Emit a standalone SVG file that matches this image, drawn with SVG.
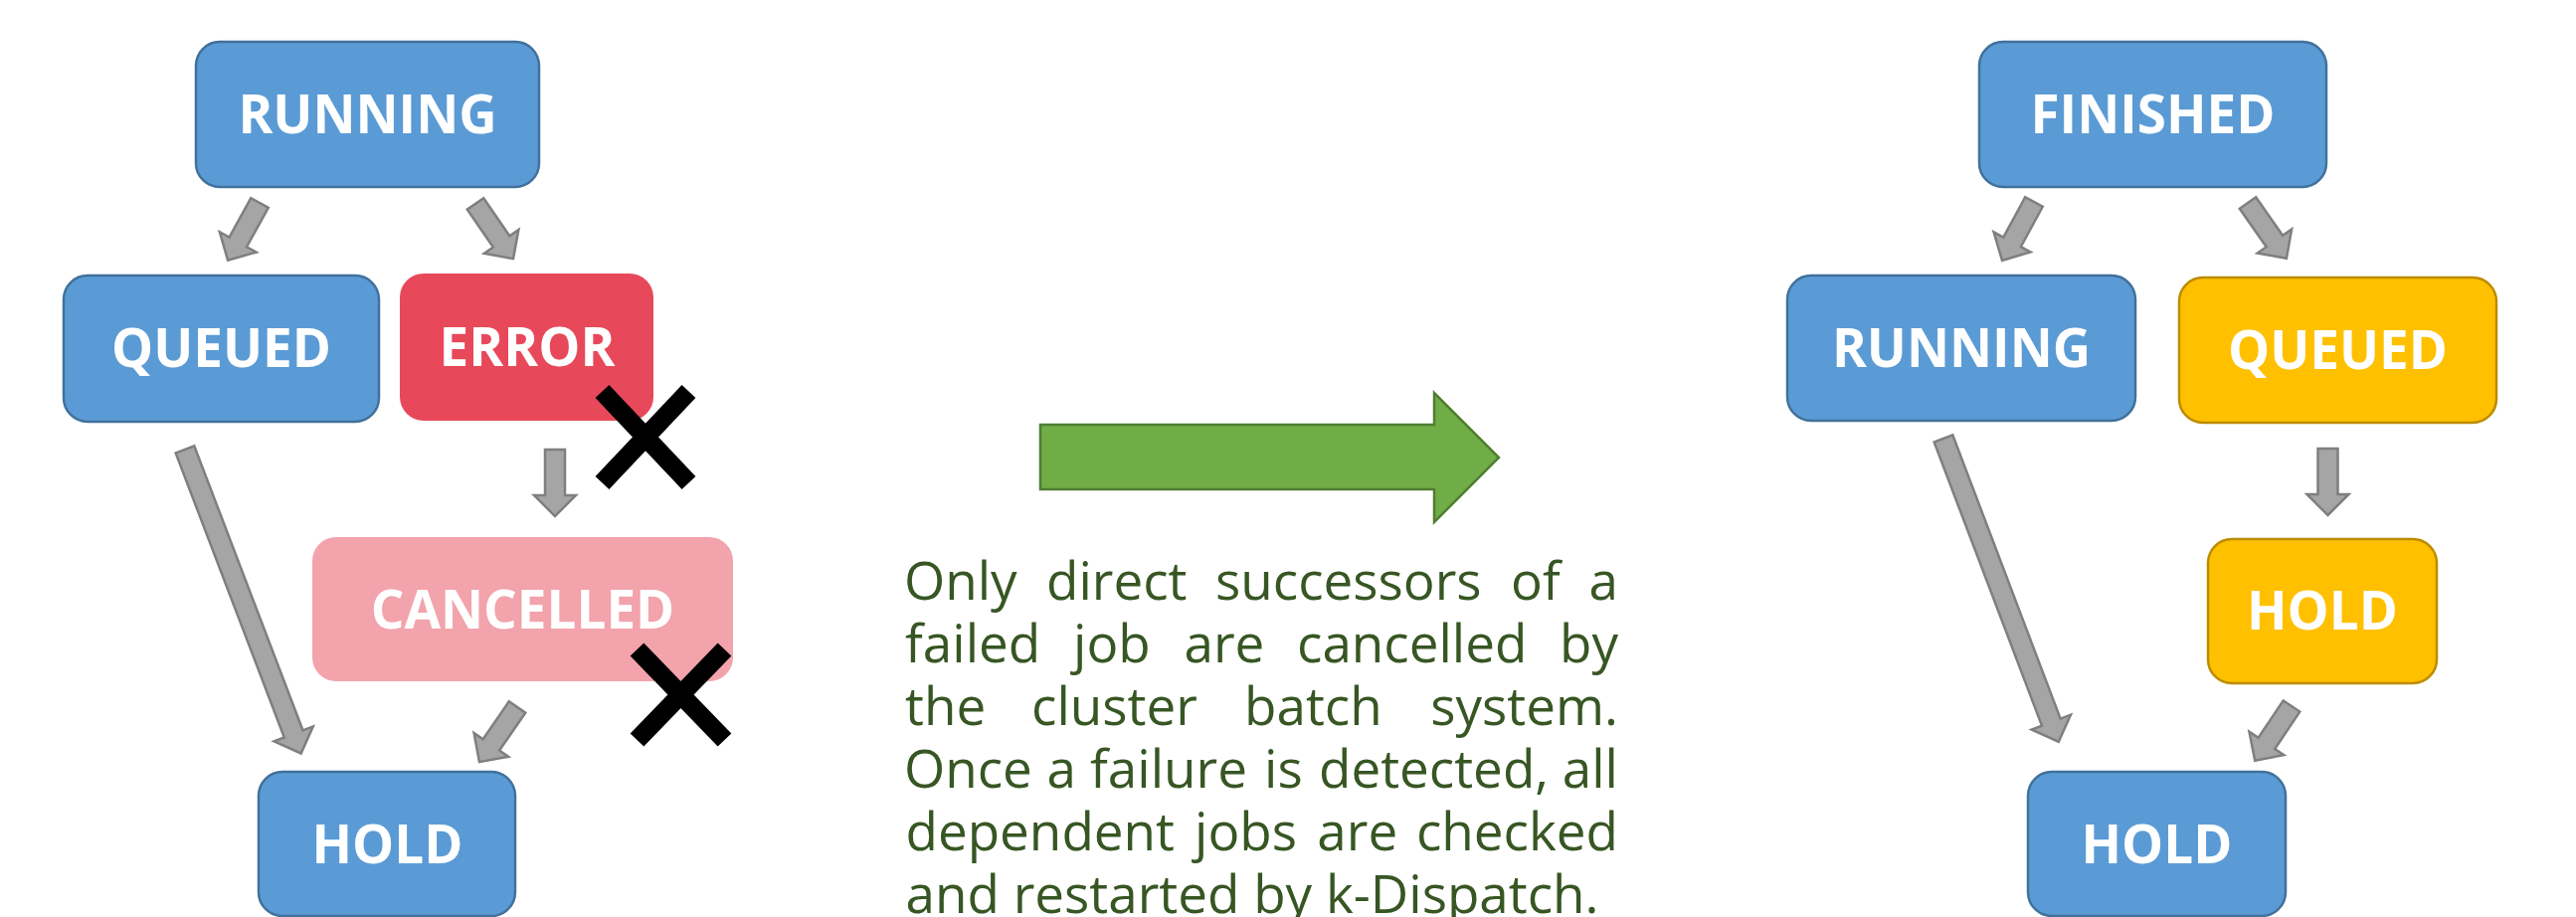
<svg xmlns="http://www.w3.org/2000/svg" width="2590" height="922" viewBox="0 0 2590 922">
<style>
.blue{fill:#5B9BD5;stroke:#41719C;stroke-width:2.5}
.yellow{fill:#FFC000;stroke:#BC8C00;stroke-width:2.5}
.red{fill:#E8495A}
.pink{fill:#F2A3AB}
.lbl{font-family:"Open Sans","Noto Sans",sans-serif;font-weight:bold;font-size:53px;fill:#FFFFFF;text-anchor:middle}
.arr{fill:#A5A5A5;stroke:#7F7F7F;stroke-width:2.5;stroke-linejoin:miter}
.xm{stroke:#000000;stroke-width:19;stroke-linecap:butt;fill:none}
.para{font-family:"Open Sans","Noto Sans",sans-serif;font-size:53px;fill:#375623}
.end{text-anchor:end}
</style>
<rect width="2590" height="922" fill="#FFFFFF"/>

<g id="connectors">
  <!-- left -->
  <path class="arr" transform="translate(261,204) rotate(118.9)" d="M0,-10 L45,-10 L45,-21 L66,0 L45,21 L45,10 L0,10 Z"/>
  <path class="arr" transform="translate(478,205) rotate(55.4)" d="M0,-10 L46,-10 L46,-21 L67,0 L46,21 L46,10 L0,10 Z"/>
  <path class="arr" transform="translate(186,452) rotate(69.1)" d="M0,-10 L306,-10 L306,-21 L327,0 L306,21 L306,10 L0,10 Z"/>
  <path class="arr" transform="translate(558,452) rotate(90)" d="M0,-10 L46,-10 L46,-21 L67,0 L46,21 L46,10 L0,10 Z"/>
  <path class="arr" transform="translate(520,711) rotate(124.6)" d="M0,-10 L46,-10 L46,-21 L67,0 L46,21 L46,10 L0,10 Z"/>
  <!-- right -->
  <path class="arr" transform="translate(2045,203) rotate(118.5)" d="M0,-10 L46,-10 L46,-21 L67,0 L46,21 L46,10 L0,10 Z"/>
  <path class="arr" transform="translate(2260,204) rotate(55.1)" d="M0,-10 L47,-10 L47,-21 L68,0 L47,21 L47,10 L0,10 Z"/>
  <path class="arr" transform="translate(1954,441) rotate(69.2)" d="M0,-10 L305,-10 L305,-21 L326,0 L305,21 L305,10 L0,10 Z"/>
  <path class="arr" transform="translate(2340.5,451) rotate(90)" d="M0,-10 L46,-10 L46,-21 L67,0 L46,21 L46,10 L0,10 Z"/>
  <path class="arr" transform="translate(2304,710) rotate(123.9)" d="M0,-10 L45,-10 L45,-21 L66,0 L45,21 L45,10 L0,10 Z"/>
</g>

<g id="left-running">
  <rect class="blue" x="197" y="42" width="345" height="146" rx="24"/>
  <text class="lbl" x="369.5" y="134">RUNNING</text>
</g>
<g id="left-queued">
  <rect class="blue" x="64" y="277" width="317" height="147" rx="24"/>
  <text class="lbl" x="222.5" y="369">QUEUED</text>
</g>
<g id="left-error">
  <rect class="red" x="402" y="275" width="255" height="148" rx="24"/>
  <text class="lbl" x="530" y="368">ERROR</text>
</g>
<g id="left-cancelled">
  <rect class="pink" x="314" y="540" width="423" height="145" rx="24"/>
  <text class="lbl" x="525.5" y="632">CANCELLED</text>
</g>
<g id="left-hold">
  <rect class="blue" x="260" y="776" width="258" height="145" rx="24"/>
  <text class="lbl" x="389.5" y="868">HOLD</text>
</g>

<g id="x-marks">
  <path class="xm" d="M605.5,393.5 L692.5,485.5 M692.5,393.5 L605.5,485.5"/>
  <path class="xm" d="M640.5,653 L728.5,744 M728.5,653 L640.5,744"/>
</g>

<g id="transition-arrow">
  <path d="M1046,427 L1442,427 L1442,395 L1507,460 L1442,525 L1442,492 L1046,492 Z" fill="#70AD47" stroke="#507E32" stroke-width="2.5"/>
</g>

<g id="description" class="para">
  <text x="909" y="603">Only</text>
  <text x="1052" y="603">direct</text>
  <text x="1222" y="603">successors</text>
  <text x="1519" y="603">of</text>
  <text class="end" x="1627" y="603">a</text>

  <text x="910" y="666">failed</text>
  <text x="1079" y="666">job</text>
  <text x="1190.5" y="666">are</text>
  <text x="1304" y="666">cancelled</text>
  <text class="end" x="1627" y="666">by</text>

  <text x="910" y="729">the</text>
  <text x="1037" y="729">cluster</text>
  <text x="1251" y="729">batch</text>
  <text class="end" x="1627" y="729">system.</text>

  <text x="909" y="792">Once</text>
  <text x="1052.5" y="792">a</text>
  <text x="1096" y="792">failure</text>
  <text x="1271" y="792">is</text>
  <text x="1326" y="792">detected,</text>
  <text class="end" x="1627" y="792">all</text>

  <text x="910.5" y="855">dependent</text>
  <text x="1201" y="855">jobs</text>
  <text x="1324.3" y="855">are</text>
  <text class="end" x="1627" y="855">checked</text>

  <text x="910.5" y="918">and restarted by k-Dispatch.</text>
</g>

<g id="right-finished">
  <rect class="blue" x="1990" y="42" width="349" height="146" rx="24"/>
  <text class="lbl" x="2164.5" y="134">FINISHED</text>
</g>
<g id="right-running">
  <rect class="blue" x="1797" y="277" width="350" height="146" rx="24"/>
  <text class="lbl" x="1972" y="369">RUNNING</text>
</g>
<g id="right-queued">
  <rect class="yellow" x="2191" y="279" width="319" height="146" rx="24"/>
  <text class="lbl" x="2350.5" y="371">QUEUED</text>
</g>
<g id="right-hold-yellow">
  <rect class="yellow" x="2220" y="542" width="230" height="145" rx="24"/>
  <text class="lbl" x="2335" y="633">HOLD</text>
</g>
<g id="right-hold">
  <rect class="blue" x="2039" y="776" width="259" height="145" rx="24"/>
  <text class="lbl" x="2168.5" y="868">HOLD</text>
</g>
</svg>
